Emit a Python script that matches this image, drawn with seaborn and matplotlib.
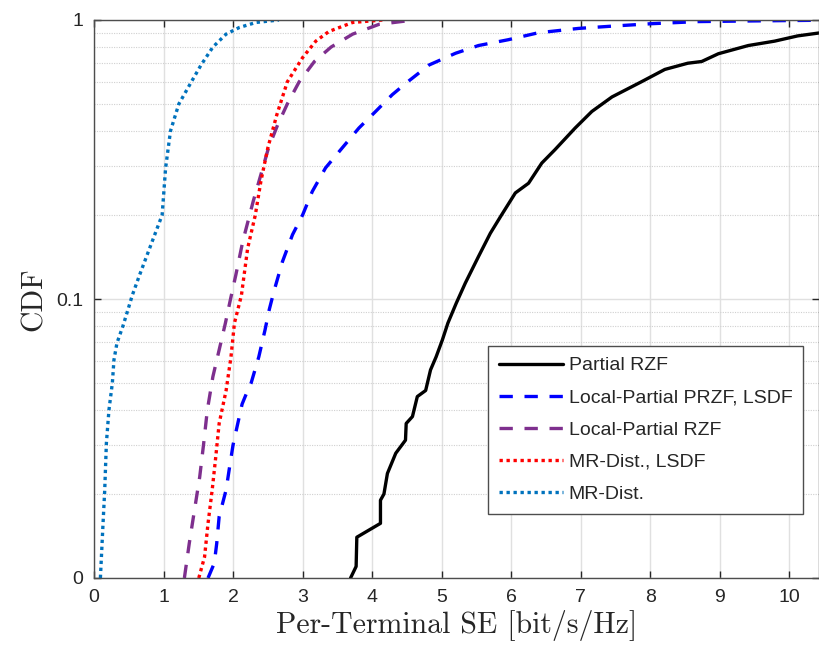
import numpy as np
import pandas as pd
import matplotlib
matplotlib.use("Agg")
import matplotlib.pyplot as plt
import seaborn as sns
from matplotlib.ticker import FixedLocator, FixedFormatter, NullFormatter

# 各曲线的 (SE, CDF) 取值
partial_rzf_x = [3.69, 3.77, 3.78, 4.12, 4.12, 4.17, 4.22, 4.34, 4.48, 4.49, 4.58, 4.65, 4.77, 4.84,
                 4.92, 5.01, 5.09, 5.21, 5.34, 5.53, 5.70, 5.85, 6.06, 6.25, 6.44, 6.63, 6.92, 7.16,
                 7.45, 7.87, 8.21, 8.54, 8.74, 8.98, 9.41, 9.79, 10.12, 10.45]
partial_rzf_y = [0.010, 0.011, 0.014, 0.0157, 0.019, 0.020, 0.0237, 0.028, 0.0312, 0.0358, 0.0379,
                 0.0447, 0.047, 0.0557, 0.062, 0.0713, 0.082, 0.0966, 0.114, 0.142, 0.172, 0.198,
                 0.24, 0.26, 0.307, 0.343, 0.41, 0.47, 0.53, 0.60, 0.665, 0.70, 0.71, 0.757, 0.81,
                 0.84, 0.877, 0.90]

lp_przf_x = [1.64, 1.73, 1.765, 1.80, 1.90, 1.95, 2.00, 2.07, 2.13, 2.21, 2.26, 2.37, 2.46, 2.52,
             2.59, 2.71, 2.855, 3.00, 3.14, 3.33, 3.57, 3.81, 4.05, 4.29, 4.51, 4.82, 5.20, 5.53,
             5.96, 6.39, 6.97, 7.49, 8.02, 8.69, 9.41, 10.45]
lp_przf_y = [0.010, 0.0113, 0.0133, 0.0166, 0.0207, 0.025, 0.030, 0.036, 0.042, 0.047, 0.050,
             0.062, 0.0775, 0.0915, 0.107, 0.136, 0.17, 0.20, 0.243, 0.295, 0.348, 0.41, 0.47,
             0.54, 0.60, 0.69, 0.76, 0.81, 0.85, 0.90, 0.933, 0.952, 0.97, 0.987, 0.992, 0.998]

lp_rzf_x = [1.30, 1.37, 1.445, 1.52, 1.575, 1.63, 1.71, 1.80, 1.89, 1.96, 2.04, 2.14, 2.29, 2.40,
            2.51, 2.64, 2.78, 2.95, 3.17, 3.41, 3.72, 4.10, 4.60]
lp_rzf_y = [0.010, 0.0133, 0.0175, 0.023, 0.030, 0.040, 0.0527, 0.0657, 0.082, 0.099, 0.122,
            0.161, 0.224, 0.279, 0.348, 0.42, 0.50, 0.60, 0.71, 0.80, 0.89, 0.965, 1.0]

mr_lsdf_x = [1.507, 1.59, 1.64, 1.70, 1.75, 1.80, 1.90, 1.97, 2.02, 2.12, 2.21, 2.32, 2.40, 2.50,
             2.63, 2.78, 3.00, 3.19, 3.38, 3.72, 4.15]
mr_lsdf_y = [0.010, 0.0119, 0.0157, 0.0207, 0.027, 0.0358, 0.047, 0.062, 0.082, 0.103, 0.152,
             0.20, 0.264, 0.348, 0.458, 0.60, 0.733, 0.84, 0.91, 0.98, 1.0]

mr_x = [0.092, 0.13, 0.154, 0.178, 0.215, 0.264, 0.287, 0.33, 0.416, 0.488, 0.55, 0.656, 0.80,
        0.98, 1.03, 1.10, 1.22, 1.40, 1.54, 1.71, 1.90, 2.09, 2.33, 2.66]
mr_y = [0.010, 0.0157, 0.0206, 0.0304, 0.040, 0.050, 0.0605, 0.0695, 0.080, 0.0915, 0.103, 0.122,
        0.152, 0.20, 0.295, 0.40, 0.50, 0.60, 0.69, 0.80, 0.89, 0.94, 0.98, 1.0]

y_ticks = [0.01, 0.1, 1]
y_tick_labels = ['0', '0.1', '1']
x_ticks = list(range(0, 11))

series = [
    ('Partial RZF', partial_rzf_x, partial_rzf_y, 'black', ''),
    ('Local-Partial PRZF, LSDF', lp_przf_x, lp_przf_y, '#0000FF', (4, 3.5)),
    ('Local-Partial RZF', lp_rzf_x, lp_rzf_y, '#7E2F8E', (4, 3.5)),
    ('MR-Dist., LSDF', mr_lsdf_x, mr_lsdf_y, '#FF0000', (1, 1.1)),
    ('MR-Dist.', mr_x, mr_y, '#0072BD', (1, 1.1)),
]

sns.set_style('ticks')
plt.rcParams['font.family'] = ['Liberation Sans', 'DejaVu Sans']

fig = plt.figure(figsize=(8.19, 6.49), dpi=100)
ax = fig.add_axes([94 / 819, 71 / 649, 724.5 / 819, 558 / 649])

for name, xs, ys, color, dash in series:
    df = pd.DataFrame({'SE': xs, 'CDF': ys})
    sns.lineplot(data=df, x='SE', y='CDF', ax=ax, color=color, lw=2.4,
                 label=name, sort=False, estimator=None)
    l = ax.get_lines()[-1]
    if dash:
        l.set_dashes(dash)

ax.set_yscale('log')
ax.set_xlim(0, 10.42)
ax.set_ylim(0.01, 1)
ax.xaxis.set_major_locator(FixedLocator(x_ticks))
ax.yaxis.set_major_locator(FixedLocator(y_ticks))
ax.yaxis.set_major_formatter(FixedFormatter(y_tick_labels))
ax.yaxis.set_minor_formatter(NullFormatter())

ax.grid(True, which='major', color='#e0e0e0', lw=1.0, ls='-')
ax.grid(True, which='minor', axis='y', color='#d0d0d0', lw=0.8, ls=(0, (1, 1.2)))
ax.set_axisbelow(True)

ax.tick_params(which='major', direction='in', length=5, width=1, top=True, right=True,
               labelsize=14, colors='#262626', pad=8)
ax.tick_params(which='minor', length=0)
for s in ax.spines.values():
    s.set_color('#4d4d4d')
    s.set_linewidth(1.0)

ax.set_xlabel('Per-Terminal SE [bit/s/Hz]', family='cmr10', fontsize=21.5, labelpad=3)
ax.set_ylabel('CDF', family='cmr10', fontsize=21.5, labelpad=6)

leg = ax.legend(loc='lower left', bbox_to_anchor=(0.544, 0.115), fontsize=14, frameon=True,
                fancybox=False, edgecolor='#4d4d4d', framealpha=1, handlelength=3.3,
                borderpad=0.55, labelspacing=0.75, handletextpad=0.3, borderaxespad=0)
leg.get_frame().set_linewidth(1.0)

fig.savefig('out.png', dpi=100)
plt.close(fig)
